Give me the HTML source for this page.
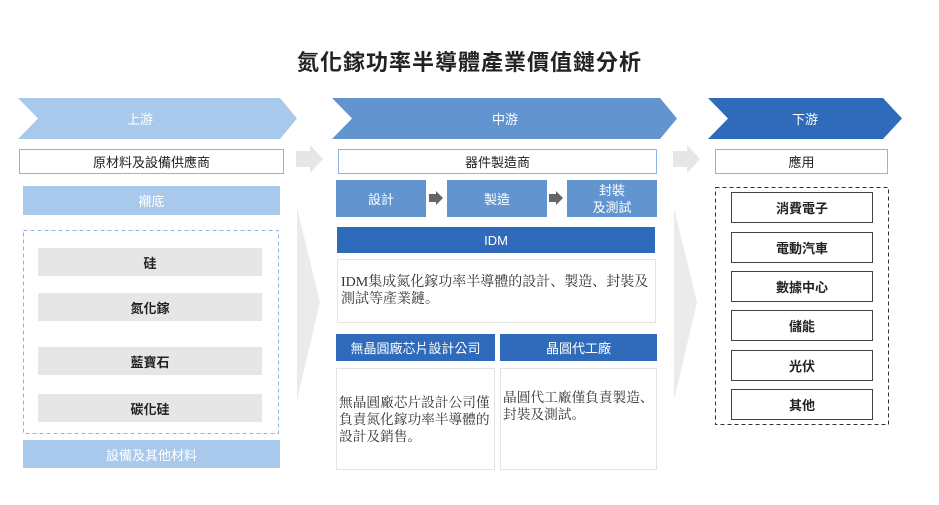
<!DOCTYPE html>
<html><head><meta charset="utf-8"><style>
body{margin:0;width:939px;height:505px;background:#fff;position:relative;overflow:hidden;font-family:"Liberation Sans","Noto Sans CJK TC",sans-serif}
.a{position:absolute;box-sizing:border-box;display:flex;align-items:center;justify-content:center;text-align:center}
.t{font-family:"Liberation Serif","Noto Serif CJK SC",serif;font-size:14px;color:#333;line-height:17px;justify-content:flex-start;text-align:left;padding:0 3px}
.t2{font-size:13.7px;padding:0 2px}
.g{background:#e6e6e6;font-size:13px;color:#222;font-weight:bold}
.r{border:1.5px solid #444;font-size:13px;color:#222;font-weight:bold}
</style></head><body>
<div class="a" style="left:0;top:44px;width:939px;height:34px;font-size:22px;font-weight:bold;color:#222;letter-spacing:1px">氮化鎵功率半導體產業價值鏈分析</div>
<svg style="position:absolute;left:0;top:0" width="939" height="505">
<polygon points="18,98 280,98 297,118.5 280,139 18,139 38,118.5" fill="#a9c9ec"/>
<polygon points="332,98 660,98 677,118.5 660,139 332,139 352,118.5" fill="#6294d0"/>
<polygon points="708,98 883,98 902,118.5 883,139 708,139 728,118.5" fill="#2f6bba"/>
<polygon points="296,151 310,151 310,145 323,159 310,173 310,167 296,167" fill="#e6e6e6"/>
<polygon points="673,151 687,151 687,145 700,159 687,173 687,167 673,167" fill="#e6e6e6"/>
<polygon points="297,208 320,302 297,400" fill="#ebebeb"/>
<polygon points="674,208 697,302 674,400" fill="#ebebeb"/>
<polygon points="429,194 436,194 436,191 443,198 436,205 436,202 429,202" fill="#666"/>
<polygon points="549,194 556,194 556,191 563,198 556,205 556,202 549,202" fill="#666"/>
<rect x="23.5" y="230.5" width="255" height="203" fill="none" stroke="#8eb4e3" stroke-dasharray="4,3"/>
<rect x="715.5" y="187.5" width="173" height="237" fill="none" stroke="#333" stroke-dasharray="4,3"/>
</svg>
<div class="a" style="left:110px;top:98px;width:60px;height:41px;color:#fff;font-size:13px">上游</div>
<div class="a" style="left:475px;top:98px;width:60px;height:41px;color:#fff;font-size:13px">中游</div>
<div class="a" style="left:775px;top:98px;width:60px;height:41px;color:#fff;font-size:13px">下游</div>
<div class="a" style="left:19px;top:149px;width:265px;height:25px;border:1.5px solid #8eb4e3;font-size:13px;color:#222">原材料及設備供應商</div>
<div class="a" style="left:338px;top:149px;width:319px;height:25px;border:1.5px solid #8eb4e3;font-size:13px;color:#222">器件製造商</div>
<div class="a" style="left:715px;top:149px;width:173px;height:25px;border:1.5px solid #8eb4e3;font-size:13px;color:#222">應用</div>
<div class="a" style="left:23px;top:186px;width:257px;height:29px;background:#a9c9ec;color:#fff;font-size:13px">襯底</div>
<div class="a" style="left:23px;top:440px;width:257px;height:28px;background:#a9c9ec;color:#fff;font-size:13px">設備及其他材料</div>
<div class="a g" style="left:38px;top:248px;width:224px;height:28px">硅</div>
<div class="a g" style="left:38px;top:293px;width:224px;height:28px">氮化鎵</div>
<div class="a g" style="left:38px;top:347px;width:224px;height:28px">藍寶石</div>
<div class="a g" style="left:38px;top:394px;width:224px;height:28px">碳化硅</div>
<div class="a" style="left:336px;top:180px;width:90px;height:37px;background:#6294d0;color:#fff;font-size:13px">設計</div>
<div class="a" style="left:447px;top:180px;width:100px;height:37px;background:#6294d0;color:#fff;font-size:13px">製造</div>
<div class="a" style="left:567px;top:180px;width:90px;height:37px;background:#6294d0;color:#fff;font-size:13px;line-height:17px">封裝<br>及測試</div>
<div class="a" style="left:337px;top:227px;width:318px;height:26px;background:#2f6bba;color:#fff;font-size:13px">IDM</div>
<div class="a t" style="left:337px;top:259px;width:319px;height:64px;border:1px solid #e3e3e3">IDM集成氮化鎵功率半導體的設計、製造、封裝及測試等產業鏈。</div>
<div class="a" style="left:336px;top:334px;width:159px;height:27px;background:#2f6bba;color:#fff;font-size:13px">無晶圓廠芯片設計公司</div>
<div class="a" style="left:500px;top:334px;width:157px;height:27px;background:#2f6bba;color:#fff;font-size:13px">晶圓代工廠</div>
<div class="a t t2" style="left:336px;top:368px;width:159px;height:102px;border:1px solid #e3e3e3">無晶圓廠芯片設計公司僅負責氮化鎵功率半導體的設計及銷售。</div>
<div class="a t t2" style="left:500px;top:368px;width:157px;height:102px;border:1px solid #e3e3e3;padding-bottom:26px">晶圓代工廠僅負責製造、封裝及測試。</div>
<div class="a r" style="left:731px;top:192px;width:142px;height:31px">消費電子</div>
<div class="a r" style="left:731px;top:232px;width:142px;height:31px">電動汽車</div>
<div class="a r" style="left:731px;top:271px;width:142px;height:31px">數據中心</div>
<div class="a r" style="left:731px;top:310px;width:142px;height:31px">儲能</div>
<div class="a r" style="left:731px;top:350px;width:142px;height:31px">光伏</div>
<div class="a r" style="left:731px;top:389px;width:142px;height:31px">其他</div>
</body></html>
